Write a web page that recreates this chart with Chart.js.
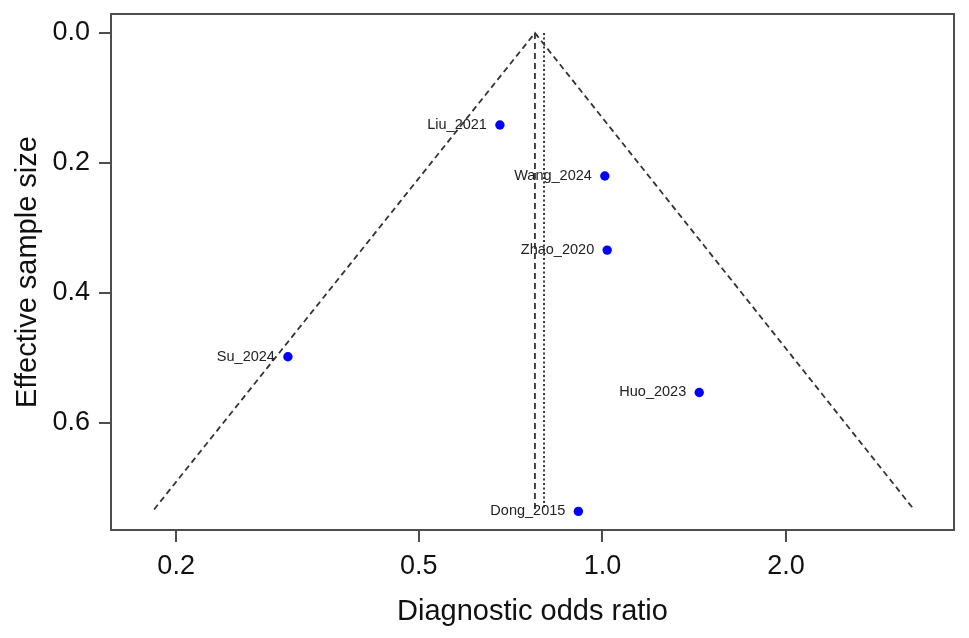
<!DOCTYPE html>
<html>
<head>
    <title>Funnel plot - Diagnostic odds ratio</title>
    <script src="https://cdn.jsdelivr.net/npm/chart.js@4.4.1/dist/chart.umd.min.js"></script>
    <style>
        body { margin: 0; background: #fff; }
        #wrap { width: 969px; height: 638px; }
    </style>
</head>
<body>
<div id="wrap"><canvas id="canvas" width="969" height="638"></canvas></div>
<script>
    // studies
    var studies = ['Liu_2021', 'Wang_2024', 'Zhao_2020', 'Su_2024', 'Huo_2023', 'Dong_2015'];
    var dor     = [0.679, 1.009, 1.018, 0.305, 1.441, 0.913];
    var ess     = [0.1415, 0.220, 0.334, 0.498, 0.553, 0.736];

    // funnel: apex and two bottom corners, summary lines
    var funnelX = [0.184, 0.775, 3.24];
    var funnelY = [0.733, 0.0, 0.733];
    var summaryDor = 0.775;
    var dottedDor  = 0.802;
    var lineTop = 0.0, lineBottom = 0.733;

    var xTicks = [0.2, 0.5, 1.0, 2.0];
    var yTicks = [0.0, 0.2, 0.4, 0.6];

    var axisColor = '#4d4d4d';
    var fontFam = '"Liberation Sans", Arial, Helvetica, sans-serif';

    var points = [];
    for (var i = 0; i < studies.length; i++) {
        points.push({ x: dor[i], y: ess[i] });
    }
    var funnel = [];
    for (var j = 0; j < funnelX.length; j++) {
        funnel.push({ x: funnelX[j], y: funnelY[j] });
    }

    var boxPlugin = {
        id: 'box',
        afterDraw: function(chart) {
            var a = chart.chartArea, ctx = chart.ctx;
            ctx.save();
            ctx.strokeStyle = axisColor;
            ctx.lineWidth = 2;
            ctx.strokeRect(a.left, a.top, a.right - a.left, a.bottom - a.top);

            // study labels, left of each point
            var xs = chart.scales.x, ys = chart.scales.y;
            ctx.fillStyle = '#222';
            ctx.font = '14.5px ' + fontFam;
            ctx.textAlign = 'right';
            ctx.textBaseline = 'middle';
            for (var k = 0; k < studies.length; k++) {
                ctx.fillText(studies[k], xs.getPixelForValue(dor[k]) - 13, ys.getPixelForValue(ess[k]));
            }
            ctx.restore();
        }
    };

    var ctx = document.getElementById('canvas').getContext('2d');
    var chart = new Chart(ctx, {
        type: 'scatter',
        data: {
            datasets: [
                {
                    label: 'funnel',
                    data: funnel,
                    showLine: true,
                    borderColor: '#333',
                    borderWidth: 1.8,
                    borderDash: [6, 4],
                    pointRadius: 0,
                    fill: false
                },
                {
                    label: 'summary',
                    data: [{ x: summaryDor, y: lineTop }, { x: summaryDor, y: lineBottom }],
                    showLine: true,
                    borderColor: '#333',
                    borderWidth: 1.8,
                    borderDash: [6, 4],
                    pointRadius: 0
                },
                {
                    label: 'dotted',
                    data: [{ x: dottedDor, y: lineTop }, { x: dottedDor, y: lineBottom }],
                    showLine: true,
                    borderColor: '#222',
                    borderWidth: 1.8,
                    borderDash: [2, 2.5],
                    pointRadius: 0
                },
                {
                    label: 'studies',
                    data: points,
                    backgroundColor: '#0000ff',
                    borderColor: '#0000ff',
                    pointRadius: 4.7,
                    pointBorderWidth: 0
                }
            ]
        },
        options: {
            responsive: false,
            animation: false,
            devicePixelRatio: 1,
            layout: { padding: { left: 0, right: 15, top: 14, bottom: 0 } },
            plugins: {
                legend: { display: false },
                tooltip: { enabled: false }
            },
            scales: {
                x: {
                    type: 'logarithmic',
                    min: 0.1564,
                    max: 3.77,
                    afterBuildTicks: function(scale) {
                        scale.ticks = xTicks.map(function(v) { return { value: v }; });
                    },
                    afterFit: function(scale) {
                        scale.height = 108;
                        scale.paddingLeft = 0;
                        scale.paddingRight = 0;
                    },
                    ticks: {
                        autoSkip: false,
                        maxRotation: 0,
                        padding: 8,
                        color: '#111',
                        font: { family: fontFam, size: 27 },
                        callback: function(v) { return Number(v).toFixed(1); }
                    },
                    grid: {
                        drawOnChartArea: false,
                        drawTicks: true,
                        tickLength: 12,
                        color: axisColor,
                        lineWidth: 2
                    },
                    border: { display: false },
                    title: {
                        display: true,
                        text: 'Diagnostic odds ratio',
                        color: '#111',
                        font: { family: fontFam, size: 29 },
                        padding: { top: 0, bottom: 9 }
                    }
                },
                y: {
                    type: 'linear',
                    reverse: true,
                    min: -0.0292,
                    max: 0.7646,
                    afterBuildTicks: function(scale) {
                        scale.ticks = yTicks.map(function(v) { return { value: v }; });
                    },
                    afterFit: function(scale) {
                        scale.width = 111;
                        scale.paddingTop = 0;
                        scale.paddingBottom = 0;
                    },
                    ticks: {
                        padding: 9,
                        color: '#111',
                        font: { family: fontFam, size: 27 },
                        callback: function(v) { return Number(v).toFixed(1); }
                    },
                    grid: {
                        drawOnChartArea: false,
                        drawTicks: true,
                        tickLength: 12,
                        color: axisColor,
                        lineWidth: 2
                    },
                    border: { display: false },
                    title: {
                        display: true,
                        text: 'Effective sample size',
                        color: '#111',
                        font: { family: fontFam, size: 29 },
                        padding: { top: 11, bottom: 0 }
                    }
                }
            }
        },
        plugins: [boxPlugin]
    });
</script>
</body>
</html>
